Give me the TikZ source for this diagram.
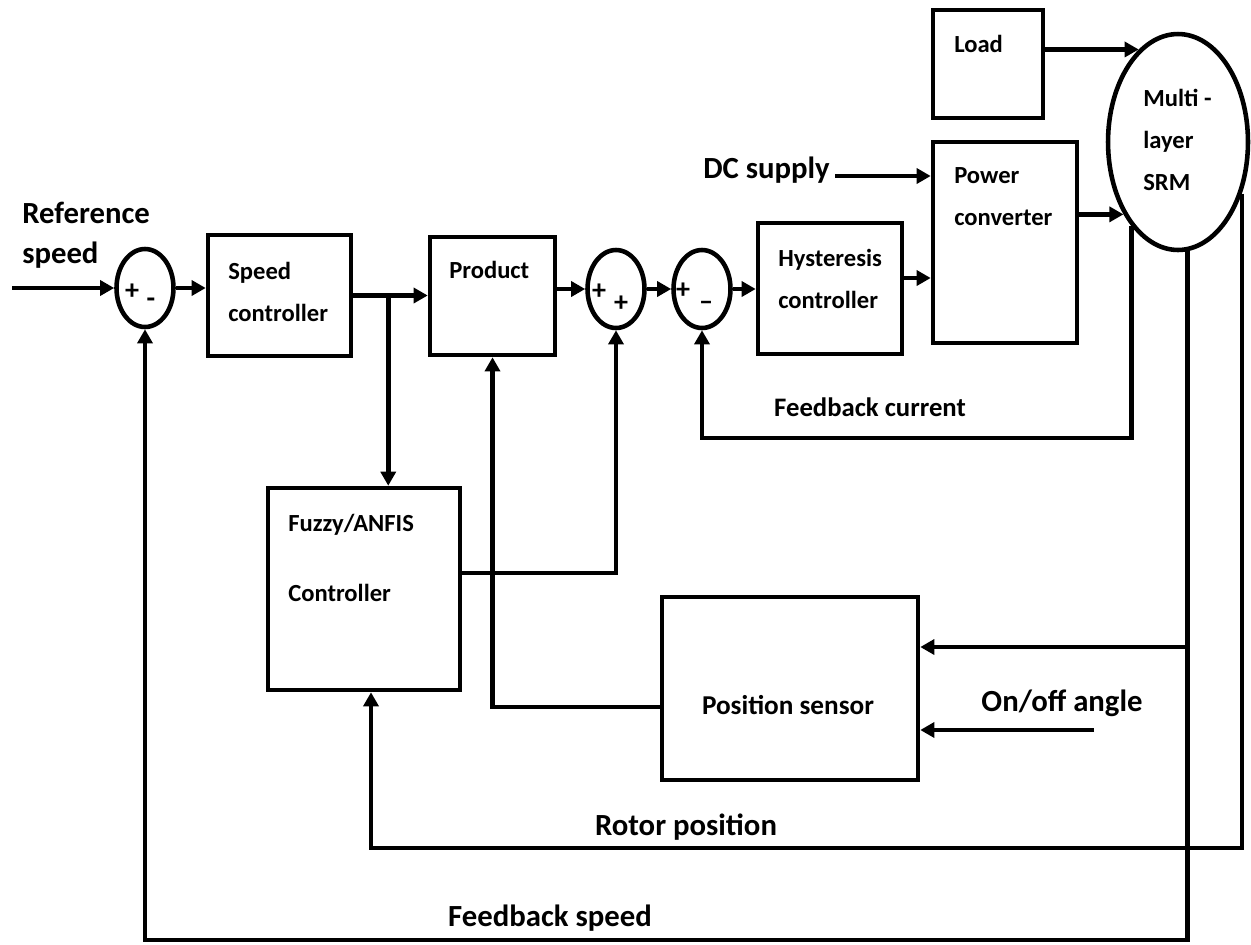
\documentclass[tikz,border=0pt]{standalone}
\usepackage{fontspec}
\setmainfont{Carlito}
\usetikzlibrary{arrows.meta, shapes.geometric}

\begin{document}
\begin{tikzpicture}[x=0.02cm, y=-0.02cm, line width=2.6pt,
        blk/.style = {draw, rectangle, inner sep=0pt},
        sumj/.style = {draw, ellipse, inner sep=0pt, minimum width=1.14cm, minimum height=1.56cm},
        lbl/.style = {inner sep=0pt, align=left, font=\bfseries\fontsize{17.5}{23}\selectfont},
        inlbl/.style = {inner sep=0pt, align=left, font=\bfseries\fontsize{14}{24}\selectfont},
        sgn/.style = {inner sep=0pt, font=\bfseries\fontsize{16}{16}\selectfont},
        arr/.style = {-{Triangle[length=8pt, width=8.5pt]}}]

        \useasboundingbox (0,0) rectangle (1251,944);

        % Blocks
        \node[blk, minimum width=2.86cm, minimum height=2.42cm] (spd) at (279.5,295.5) {};
        \node[blk, minimum width=2.5cm, minimum height=2.36cm] (prod) at (492.5,296) {};
        \node[blk, minimum width=2.88cm, minimum height=2.62cm] (hyst) at (830,288.5) {};
        \node[blk, minimum width=2.88cm, minimum height=4.02cm] (pconv) at (1005,242.5) {};
        \node[blk, minimum width=2.2cm, minimum height=2.16cm] (load) at (988,64) {};
        \node[blk, minimum width=3.84cm, minimum height=4.04cm] (fuzzy) at (364,589) {};
        \node[blk, minimum width=5.12cm, minimum height=3.66cm] (pos) at (790,688.5) {};
        \node[draw, ellipse, inner sep=0pt, minimum width=2.8cm, minimum height=4.32cm] (srm) at (1178,142) {};

        % Summing junctions
        \node[sumj] (sum1) at (145,288) {};
        \node[sumj] (sum2) at (616,289) {};
        \node[sumj] (sum3) at (702,289) {};
        \node[sgn] (s1p) at (132,292) {+};
        \node[sgn] (s1m) at (151,303) {-};
        \node[sgn] (s2a) at (599,292) {+};
        \node[sgn] (s2b) at (621,304) {+};
        \node[sgn] (s3p) at (683,291) {+};
        \node[sgn] (s3m) at (706,306) {--};

        % Block texts
        \node[inlbl, anchor=west] (spdtxt) at (226,292) {Speed\\controller};
        \node[inlbl, anchor=west] (prodtxt) at (447,270) {Product};
        \node[inlbl, anchor=west] (hysttxt) at (776,279) {Hysteresis\\controller};
        \node[inlbl, anchor=west] (pconvtxt) at (952,197) {Power\\converter};
        \node[inlbl, anchor=west] (loadtxt) at (952,44) {Load};
        \node[inlbl, anchor=west] (srmtxt) at (1141,140) {Multi -\\layer\\SRM};
        \node[inlbl, anchor=west] (fuzzytxt) at (286,558) {Fuzzy/ANFIS\\[15.7pt]Controller};
        \node[lbl, font=\bfseries\fontsize{15.5}{18}\selectfont] (postxt) at (788,705) {Position sensor};

        % Signal labels
        \node[lbl, anchor=west] (reftxt) at (20,235) {Reference\\speed};
        \node[lbl, anchor=west] (dctxt) at (701,170) {DC supply};
        \node[lbl, font=\bfseries\fontsize{15.2}{18}\selectfont] (fbctxt) at (870,407) {Feedback current};
        \node[lbl] (rottxt) at (686,827) {Rotor position};
        \node[lbl] (fbstxt) at (550,918) {Feedback speed};
        \node[lbl] (angtxt) at (1062,703) {On/off angle};

        % Forward path
        \coordinate (refin) at (12,288);
        \draw[arr] (refin) -- (sum1.west);
        \draw[arr] (sum1.east) -- (sum1.east -| spd.west);
        \draw[arr] (spd.east) -- (spd.east -| prod.west);
        \coordinate (br) at ([xshift=0.7cm]spd.east);
        \draw[arr] (br) -- (br |- fuzzy.north);
        \draw[arr] (prod.east |- sum2) -- (sum2.west);
        \draw[arr] (sum2.east) -- (sum3.west);
        \draw[arr] (sum3.east) -- (sum3.east -| hyst.west);
        \coordinate (dcin) at (835,176);
        \draw[arr] (dcin) -- (dcin -| pconv.west);
        \coordinate (hp) at ([yshift=0.21cm]hyst.east);
        \draw[arr] (hp) -- (hp -| pconv.west);
        \draw[arr] (srm.233 -| pconv.east) -- (srm.233);
        \draw[arr] (srm.113 -| load.east) -- (srm.113);

        % Feedback paths
        \coordinate (ic) at (702,438);
        \draw[arr] (srm.241) |- (ic) -- (sum3.south);
        \coordinate (sc) at (145,940);
        \draw[arr] (srm.275) |- (sc) -- (sum1.south);
        \coordinate (rc) at (371,848);
        \draw[arr] (srm.321) |- (rc) -- (rc |- fuzzy.south);
        \coordinate (pin1) at ([yshift=0.83cm]pos.east);
        \draw[arr] (srm.275 |- pin1) -- (pin1);
        \coordinate (pin2) at ([yshift=-0.83cm]pos.east);
        \draw[arr] ([xshift=3.48cm]pin2) -- (pin2);
        \coordinate (pout) at ([yshift=-0.37cm]pos.west);
        \draw[arr] (pout) -| (prod.south);
        \coordinate (fout) at ([yshift=0.32cm]fuzzy.east);
        \draw[arr] (fout) -| (sum2.south);
    \end{tikzpicture}
\end{document}
